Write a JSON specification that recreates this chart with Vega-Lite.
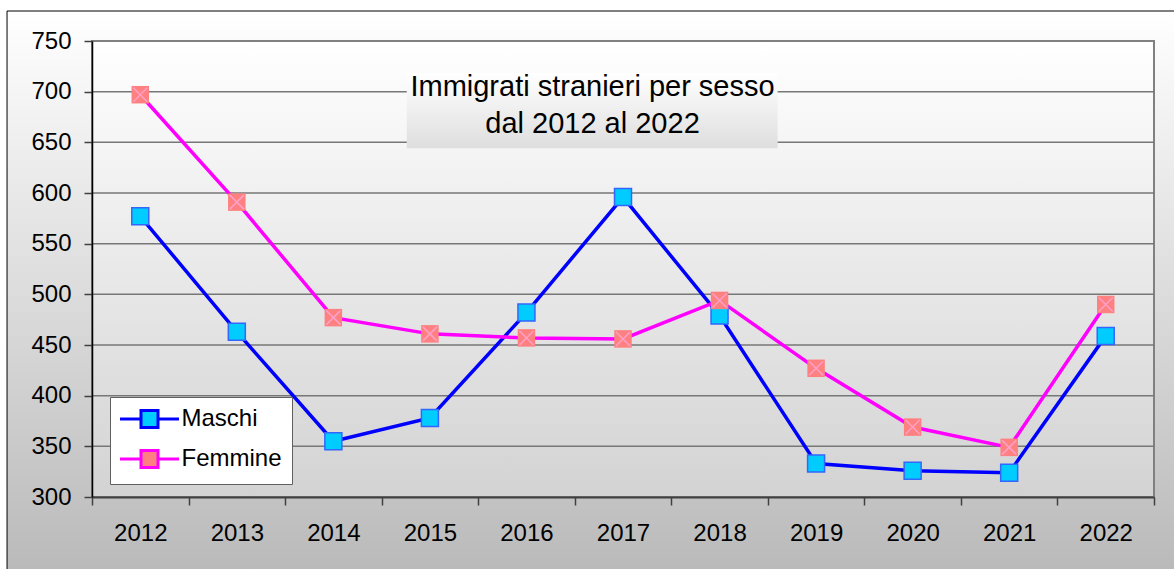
{
  "$schema": "https://vega.github.io/schema/vega-lite/v6.json",
  "width": 1062,
  "height": 456,
  "autosize": "none",
  "padding": {"left": 92, "top": 41, "right": 20, "bottom": 72},
  "background": "#ffffff",
  "config": {
    "font": "Liberation Sans",
    "view": {"stroke": null},
    "axis": {"grid": false}
  },
  "layer": [
    {
      "data": {"values": [{}]},
      "layer": [
        {
          "mark": {"type": "rect", "clip": false, "stroke": "#000000", "strokeWidth": 1,
            "fill": {"gradient": "linear", "x1": 0, "y1": 0, "x2": 0, "y2": 1,
              "stops": [{"offset": 0, "color": "#ffffff"}, {"offset": 1, "color": "#b9b9b9"}]}},
          "encoding": {
            "x": {"datum": -0.08, "type": "quantitative", "scale": {"domain": [0, 1], "nice": false, "zero": false}, "axis": null},
            "x2": {"datum": 1.03},
            "y": {"datum": 779.6, "type": "quantitative", "scale": {"domain": [300, 750], "nice": false, "zero": false}, "title": null},
            "y2": {"datum": 220}
          }
        },
        {
          "mark": {"type": "rect", "stroke": "#808080", "strokeWidth": 2,
            "fill": {"gradient": "linear", "x1": 0, "y1": 0, "x2": 0, "y2": 1,
              "stops": [{"offset": 0, "color": "#ffffff"}, {"offset": 1, "color": "#d3d3d3"}]}},
          "encoding": {
            "x": {"datum": 0, "type": "quantitative"},
            "x2": {"datum": 1},
            "y": {"datum": 750, "type": "quantitative"},
            "y2": {"datum": 300}
          }
        },
        {"mark": {"type": "rule", "color": "#777777", "strokeWidth": 1.5}, "encoding": {"y": {"datum": 350, "type": "quantitative"}}},
        {"mark": {"type": "rule", "color": "#777777", "strokeWidth": 1.5}, "encoding": {"y": {"datum": 400, "type": "quantitative"}}},
        {"mark": {"type": "rule", "color": "#777777", "strokeWidth": 1.5}, "encoding": {"y": {"datum": 450, "type": "quantitative"}}},
        {"mark": {"type": "rule", "color": "#777777", "strokeWidth": 1.5}, "encoding": {"y": {"datum": 500, "type": "quantitative"}}},
        {"mark": {"type": "rule", "color": "#777777", "strokeWidth": 1.5}, "encoding": {"y": {"datum": 550, "type": "quantitative"}}},
        {"mark": {"type": "rule", "color": "#777777", "strokeWidth": 1.5}, "encoding": {"y": {"datum": 600, "type": "quantitative"}}},
        {"mark": {"type": "rule", "color": "#777777", "strokeWidth": 1.5}, "encoding": {"y": {"datum": 650, "type": "quantitative"}}},
        {"mark": {"type": "rule", "color": "#777777", "strokeWidth": 1.5}, "encoding": {"y": {"datum": 700, "type": "quantitative"}}}
      ]
    },
    {
      "data": {"values": [
        {"anno": 2012, "sesso": "Maschi", "valore": 577},
        {"anno": 2013, "sesso": "Maschi", "valore": 463},
        {"anno": 2014, "sesso": "Maschi", "valore": 355},
        {"anno": 2015, "sesso": "Maschi", "valore": 378},
        {"anno": 2016, "sesso": "Maschi", "valore": 482},
        {"anno": 2017, "sesso": "Maschi", "valore": 596},
        {"anno": 2018, "sesso": "Maschi", "valore": 479},
        {"anno": 2019, "sesso": "Maschi", "valore": 333},
        {"anno": 2020, "sesso": "Maschi", "valore": 326},
        {"anno": 2021, "sesso": "Maschi", "valore": 324},
        {"anno": 2022, "sesso": "Maschi", "valore": 459},
        {"anno": 2012, "sesso": "Femmine", "valore": 697},
        {"anno": 2013, "sesso": "Femmine", "valore": 591},
        {"anno": 2014, "sesso": "Femmine", "valore": 477},
        {"anno": 2015, "sesso": "Femmine", "valore": 461},
        {"anno": 2016, "sesso": "Femmine", "valore": 457},
        {"anno": 2017, "sesso": "Femmine", "valore": 456},
        {"anno": 2018, "sesso": "Femmine", "valore": 494},
        {"anno": 2019, "sesso": "Femmine", "valore": 427},
        {"anno": 2020, "sesso": "Femmine", "valore": 369},
        {"anno": 2021, "sesso": "Femmine", "valore": 349},
        {"anno": 2022, "sesso": "Femmine", "valore": 490}
      ]},
      "layer": [
        {
          "mark": {"type": "line", "strokeWidth": 3.5},
          "encoding": {
            "x": {"field": "anno", "type": "ordinal", "scale": {"type": "band", "paddingInner": 0, "paddingOuter": 0},
              "axis": {"orient": "bottom", "title": null, "grid": false, "tickBand": "extent", "tickSize": 8, "tickColor": "#404040", "tickWidth": 1.5,
                "domainColor": "#404040", "domainWidth": 2, "labelAngle": 0, "labelFontSize": 24, "labelFont": "Liberation Sans",
                "labelColor": "#000000", "labelPadding": 16, "zindex": 1}},
            "y": {"field": "valore", "type": "quantitative",
              "axis": {"title": null, "grid": false, "values": [300, 350, 400, 450, 500, 550, 600, 650, 700, 750],
                "tickSize": 8, "tickColor": "#404040", "tickWidth": 1.5, "domainColor": "#000000", "domainWidth": 1.5,
                "labelFontSize": 24, "labelFont": "Liberation Sans", "labelColor": "#000000", "labelPadding": 13, "zindex": 1}},
            "color": {"field": "sesso", "type": "nominal",
              "scale": {"domain": ["Maschi", "Femmine"], "range": ["#0000ff", "#ff00ff"]},
              "legend": {"title": null, "orient": "none", "legendX": 18, "legendY": 356, "fillColor": "#ffffff",
                "strokeColor": "#606060", "padding": 10, "labelFontSize": 24, "labelFont": "Liberation Sans",
                "labelColor": "#000000", "labelOffset": 20, "symbolOffset": 17.5,
                "symbolType": "M-3.47,0H-1M1,0H3.47M-1,-1H1V1H-1Z",
                "symbolSize": 289, "symbolStrokeWidth": 3, "rowPadding": 10, "zindex": 2}}
          }
        },
        {
          "transform": [{"filter": "datum.sesso === 'Maschi'"}],
          "mark": {"type": "point", "shape": "square", "filled": true, "size": 289, "stroke": "#3366ff", "strokeWidth": 1.5, "opacity": 1},
          "encoding": {
            "x": {"field": "anno", "type": "ordinal"},
            "y": {"field": "valore", "type": "quantitative"},
            "fill": {"field": "sesso", "type": "nominal",
              "scale": {"domain": ["Maschi", "Femmine"], "range": ["#00ccff", "#ff8080"]},
              "legend": {"title": null, "orient": "none", "legendX": 18, "legendY": 356, "fillColor": "#ffffff",
                "strokeColor": "#606060", "padding": 10, "labelFontSize": 24, "labelFont": "Liberation Sans",
                "labelColor": "#000000", "labelOffset": 20, "symbolOffset": 17.5,
                "symbolType": "M-3.47,0H-1M1,0H3.47M-1,-1H1V1H-1Z",
                "symbolSize": 289, "symbolStrokeWidth": 3, "rowPadding": 10, "zindex": 2}}
          }
        },
        {
          "transform": [{"filter": "datum.sesso === 'Femmine'"}],
          "mark": {"type": "point", "shape": "square", "filled": true, "size": 306, "strokeWidth": 0, "opacity": 1},
          "encoding": {
            "x": {"field": "anno", "type": "ordinal"},
            "y": {"field": "valore", "type": "quantitative"},
            "fill": {"field": "sesso", "type": "nominal"}
          }
        },
        {
          "transform": [{"filter": "datum.sesso === 'Femmine'"}],
          "mark": {"type": "point", "shape": "M-1,-1L1,1M-1,1L1,-1", "filled": false, "size": 196, "stroke": "#ffa0c8", "strokeWidth": 1.5, "opacity": 1},
          "encoding": {
            "x": {"field": "anno", "type": "ordinal"},
            "y": {"field": "valore", "type": "quantitative"}
          }
        }
      ]
    },
    {
      "data": {"values": [{}]},
      "layer": [
        {
          "mark": {"type": "rect",
            "fill": {"gradient": "linear", "x1": 0, "y1": 0, "x2": 0, "y2": 1,
              "stops": [{"offset": 0, "color": "#ffffff"}, {"offset": 1, "color": "#dedede"}]}},
          "encoding": {
            "x": {"datum": 0.2964, "type": "quantitative", "scale": {"domain": [0, 1], "nice": false, "zero": false}, "axis": null},
            "x2": {"datum": 0.6456},
            "y": {"datum": 718.4, "type": "quantitative"},
            "y2": {"datum": 644.1}
          }
        },
        {
          "mark": {"type": "text", "text": ["Immigrati stranieri per sesso", "dal 2012 al 2022"], "fontSize": 29,
            "lineHeight": 37, "align": "center", "baseline": "alphabetic", "font": "Liberation Sans", "color": "#000000"},
          "encoding": {
            "x": {"datum": 0.4713, "type": "quantitative"},
            "y": {"datum": 696, "type": "quantitative"}
          }
        }
      ]
    }
  ],
  "resolve": {"scale": {"x": "independent"}}
}
